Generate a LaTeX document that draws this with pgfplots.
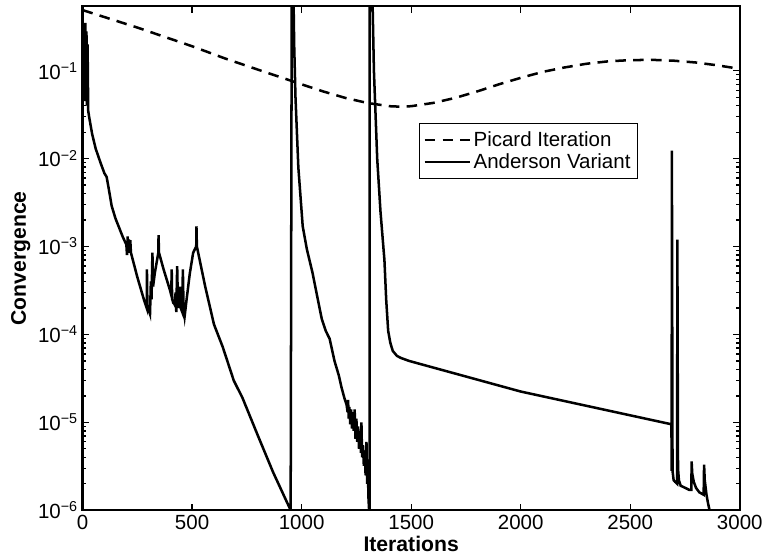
\documentclass[border=0pt]{standalone}
\usepackage{fontspec}
\setmainfont{Liberation Sans}
\usepackage{pgfplots}
\pgfplotsset{compat=1.18}

\begin{document}
\begin{tikzpicture}
\begin{axis}[
  scale only axis, width=497pt, height=381pt,
  ymode=log, xmin=0, xmax=3000, ymin=1e-6, ymax=0.54,
  xtick={0,500,1000,1500,2000,2500,3000},
  ytick={1e-6,1e-5,1e-4,1e-3,1e-2,1e-1},
  yticklabels={10\textsuperscript{−6},10\textsuperscript{−5},10\textsuperscript{−4},10\textsuperscript{−3},10\textsuperscript{−2},10\textsuperscript{−1}},
  /pgf/number format/assume math mode=true,
  /pgf/number format/set thousands separator={},
  tick align=inside, tick pos=both,
  major tick length=5pt, minor tick length=3pt,
  axis line style={line width=1.6pt},
  every tick/.style={black, line width=1pt},
  tick label style={font=\fontsize{15.5}{18}\selectfont},
  label style={font=\fontsize{16}{19}\selectfont\bfseries},
  xlabel={Iterations}, ylabel={Convergence},
  xlabel style={yshift=2pt},
  ylabel style={yshift=-1pt},
  legend cell align=left,
  legend style={at={(0.512,0.768)}, anchor=north west, draw=black, line width=0.7pt,
    font=\fontsize{15.5}{21}\selectfont, inner xsep=3pt, inner ysep=4pt},
  legend image code/.code={\draw[#1] (0pt,0pt) -- (34pt,0pt);},
]
\addplot[black, line width=1.9pt, dash pattern=on 8pt off 5.5pt] coordinates {
(0,0.49) (250,0.31) (500,0.19) (650,0.138) (800,0.103) (900,0.085) (1000,0.07)
(1100,0.058) (1200,0.049) (1300,0.043) (1400,0.0395) (1450,0.039) (1500,0.0395)
(1600,0.043) (1700,0.049) (1800,0.058) (1900,0.07) (2000,0.083) (2100,0.097)
(2200,0.109) (2300,0.12) (2400,0.128) (2500,0.132) (2600,0.133) (2700,0.13)
(2800,0.124) (2900,0.115) (3000,0.105)
};
\addlegendentry{Picard Iteration}
\addplot[black, line width=1.9pt] coordinates {
(0,0.05) (3,0.25) (5,0.06) (8,0.3) (10,0.045) (13,0.35) (15,0.05) (18,0.28)
(20,0.04) (23,0.2) (26,0.035) (30,0.03) (44,0.019) (60,0.013) (82,0.009)
(100,0.0068) (110,0.0062) (120,0.0045) (133,0.0029) (150,0.0021) (183,0.0013)
(200,0.00105) (203,0.0008) (206,0.0013) (209,0.00085) (212,0.0012) (215,0.0009)
(218,0.00118) (221,0.00085) (250,0.00045) (280,0.00025) (293,0.0002)
(294,0.00055) (296,0.00021) (308,0.00017) (312,0.0004) (315,0.00025)
(319,0.00085) (322,0.00035) (330,0.0005) (346,0.00085) (347,0.00135)
(349,0.00085) (370,0.00055) (399,0.00032) (405,0.00028) (407,0.00055)
(409,0.00025) (420,0.00022) (425,0.0003) (428,0.00018) (432,0.0006)
(435,0.00025) (440,0.0002) (445,0.00035) (448,0.0002) (455,0.00018)
(458,0.00055) (461,0.0002) (466,0.00016) (475,0.00025) (490,0.0005)
(505,0.00085) (519,0.001) (520,0.0017) (522,0.001) (560,0.00035) (600,0.00013)
(640,0.000072) (690,0.00003) (730,0.000019) (800,0.0000071) (870,0.0000027)
(950,0.000001) (955,1) (962,1) (966,0.2) (972,0.05) (985,0.008) (1005,0.0017)
(1024,0.00093) (1050,0.0005) (1070,0.00028) (1092,0.00015) (1110,0.00011)
(1128,0.000089) (1150,0.00005) (1170,0.000034) (1182,0.000025) (1195,0.000019)
(1205,0.000016) (1210,0.000013) (1212,0.000018) (1215,0.000011) (1218,0.000015)
(1222,0.0000095) (1226,0.000014) (1230,0.0000085) (1234,0.000013)
(1238,0.000008) (1242,0.000014) (1246,0.0000065) (1250,0.000011)
(1254,0.000006) (1258,0.000009) (1262,0.000005) (1268,0.000008)
(1271,0.0000045) (1273,0.00001) (1276,0.000004) (1280,0.0000055)
(1284,0.0000032) (1288,0.0000048) (1292,0.0000025) (1296,0.000006)
(1299,0.000002) (1302,0.0000035) (1305,0.0000014) (1308,0.000001)
(1310,0.000001) (1311,1) (1322,1) (1330,0.1) (1345,0.01) (1360,0.0025)
(1378,0.0007) (1386,0.00025) (1395,0.00011) (1405,0.00008) (1416,0.000065)
(1435,0.000057) (1453,0.000054) (1490,0.00005) (1529,0.000047)
(2000,0.0000224) (2688,0.0000095) (2689,0.0000028) (2690,0.0123)
(2693,0.0000028) (2698,0.0000022) (2705,0.0000021) (2714,0.000002)
(2715,0.0012) (2718,0.000003) (2722,0.0000022) (2730,0.0000019)
(2750,0.0000018) (2770,0.0000017) (2779,0.0000017) (2780,0.0000036)
(2783,0.0000026) (2790,0.0000021) (2800,0.0000018) (2815,0.0000016)
(2835,0.0000015) (2837,0.0000033) (2840,0.0000022) (2848,0.0000015)
(2855,0.0000012) (2862,0.000001) (2865,0.0000009)
};
\addlegendentry{Anderson Variant}
\end{axis}
\path (current bounding box.north west) ++(-5pt,4pt);
\end{tikzpicture}
\end{document}
